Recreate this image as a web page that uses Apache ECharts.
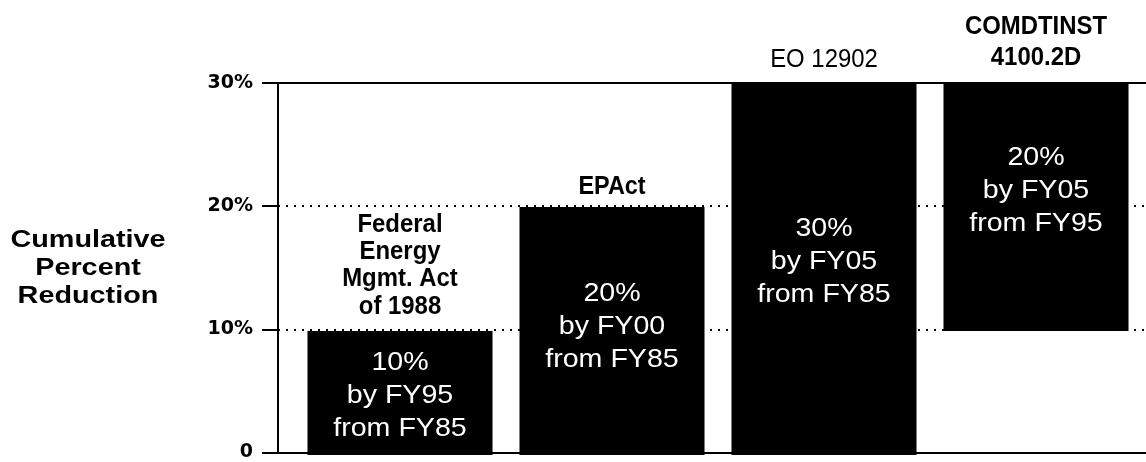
<!DOCTYPE html>
<html>
<head>
<meta charset="utf-8">
<script src="https://cdn.jsdelivr.net/npm/echarts@6/dist/echarts.min.js"></script>
<style>html,body{margin:0;padding:0;background:#fff;}#c{width:1146px;height:462px;}</style>
</head>
<body>
<div id="c"></div>
<script>
// ---- data ----
var categories = ['Federal Energy Mgmt. Act of 1988', 'EPAct', 'EO 12902', 'COMDTINST 4100.2D'];
var barTitles = ['Federal\nEnergy\nMgmt. Act\nof 1988', 'EPAct', 'EO 12902', 'COMDTINST\n4100.2D'];
var baseValues = [0, 0, 0, 10];
var reductionValues = [10, 20, 30, 20];
var insideLabels = ['10%\nby FY95\nfrom FY85', '20%\nby FY00\nfrom FY85', '30%\nby FY05\nfrom FY85', '20%\nby FY05\nfrom FY95'];
var yTickLabels = ['0', '10%', '20%', '30%'];
var yAxisTitle = 'Cumulative\nPercent\nReduction';

// ---- styling (not data) ----
var ARIAL = '"Liberation Sans", Arial, sans-serif';
var titleStyle = [
  {weight: 'bold', lineHeight: 27.3, distance: 11, sx: 0.92},
  {weight: 'bold', lineHeight: 27.3, distance: 7, sx: 0.9},
  {weight: 'normal', lineHeight: 27.3, distance: 10, sx: 0.92},
  {weight: 'bold', lineHeight: 31, distance: 10, sx: 0.92}
];
var insideDy = [3, -4, -7, -16];

var tops = baseValues.map(function (b, i) { return b + reductionValues[i]; });

var chart = echarts.init(document.getElementById('c'), null, {renderer: 'canvas'});
chart.setOption({
  animation: false,
  backgroundColor: '#ffffff',
  grid: [
    {left: 278, top: 83, bottom: 7, right: -30, containLabel: false},
    {left: 294, top: 83, bottom: 7, right: 4, containLabel: false}
  ],
  xAxis: [
    {gridIndex: 0, type: 'value', min: 0, max: 1, position: 'bottom',
      axisLine: {show: true, onZero: false, lineStyle: {color: '#000', width: 2}},
      axisTick: {show: false}, axisLabel: {show: false}, splitLine: {show: false}},
    {gridIndex: 0, type: 'value', min: 0, max: 1, position: 'top',
      axisLine: {show: true, onZero: false, lineStyle: {color: '#000', width: 2}},
      axisTick: {show: false}, axisLabel: {show: false}, splitLine: {show: false}},
    {gridIndex: 1, type: 'category', data: categories, show: false}
  ],
  yAxis: [
    {gridIndex: 0, type: 'value', min: 0, max: 30, interval: 10,
      axisLine: {show: true, lineStyle: {color: '#000', width: 2}},
      axisTick: {show: true, length: 16, lineStyle: {color: '#000', width: 2}},
      axisLabel: {margin: 25, color: '#000', fontFamily: '"DejaVu Sans", sans-serif', fontWeight: 'bold', fontSize: 19,
        formatter: function (v) { return yTickLabels[Math.round(v / 10)]; }},
      splitLine: {show: true, lineStyle: {color: '#000', width: 2, type: [2, 6]}}},
    {gridIndex: 1, type: 'value', min: 0, max: 30, interval: 10, show: false,
      splitLine: {show: false}}
  ],
  graphic: [
    {type: 'text', x: 88, y: 268, scaleX: 1.2,
      style: {text: yAxisTitle, fill: '#000', font: 'bold 24px ' + ARIAL,
        align: 'center', verticalAlign: 'middle', lineHeight: 28}}
  ],
  series: [
    {name: 'base', type: 'bar', xAxisIndex: 2, yAxisIndex: 1, stack: 'a', barWidth: 185, barGap: '-100%',
      data: baseValues, itemStyle: {color: 'rgba(0,0,0,0)'}, silent: true},
    {name: 'reduction', type: 'bar', xAxisIndex: 2, yAxisIndex: 1, stack: 'a', barWidth: 185, barGap: '-100%',
      itemStyle: {color: '#000'}, data: reductionValues},
    {name: 'insideLabels', type: 'custom', xAxisIndex: 2, yAxisIndex: 1, silent: true, z: 5,
      data: baseValues.map(function (b, i) { return [i, b, tops[i]]; }),
      renderItem: function (params, api) {
        var i = params.dataIndex;
        var p = api.coord([api.value(0), (api.value(1) + api.value(2)) / 2]);
        return {type: 'text', x: p[0], y: p[1] + insideDy[i], scaleX: 1.1,
          style: {text: insideLabels[i], fill: '#fff', font: '26px ' + ARIAL,
            align: 'center', verticalAlign: 'middle', lineHeight: 33}};
      }},
    {name: 'titles', type: 'custom', xAxisIndex: 2, yAxisIndex: 1, silent: true, z: 5,
      data: tops.map(function (t, i) { return [i, t]; }),
      renderItem: function (params, api) {
        var i = params.dataIndex;
        var s = titleStyle[i];
        var p = api.coord([api.value(0), api.value(1)]);
        return {type: 'text', x: p[0], y: p[1] - s.distance, scaleX: s.sx,
          style: {text: barTitles[i], fill: '#000', font: s.weight + ' 26px ' + ARIAL,
            align: 'center', verticalAlign: 'bottom', lineHeight: s.lineHeight}};
      }}
  ]
});
</script>
</body>
</html>
